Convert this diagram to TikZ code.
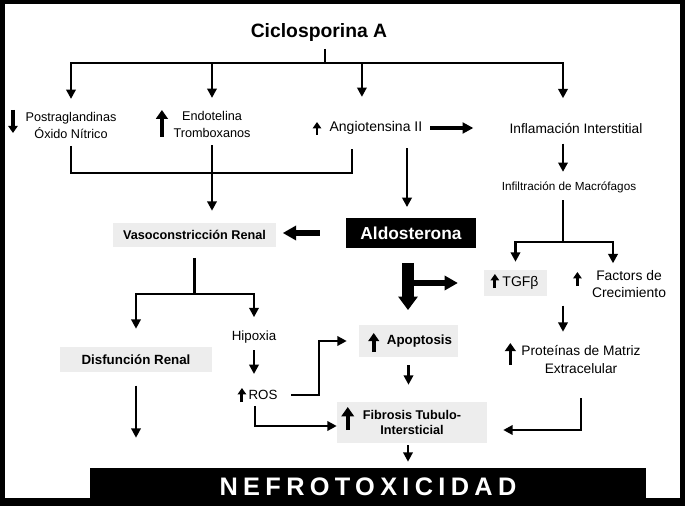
\documentclass[tikz,border=0pt]{standalone}
\usepackage{fontspec}
\setmainfont{Liberation Sans}
\usetikzlibrary{arrows.meta,calc}

\begin{document}
\begin{tikzpicture}[
  x=0.75pt, y=-0.75pt,
  lbl/.style={inner sep=1pt, align=center, font=\fontsize{9.5}{12.75}\selectfont},
  box/.style={fill=black!7, inner sep=0pt, align=center, font=\bfseries\fontsize{9.5}{11.25}\selectfont},
  dark/.style={fill=black, text=white, inner sep=0pt, font=\bfseries\fontsize{13}{15}\selectfont},
  line/.style={line width=1.9pt},
  arr/.style={line, -{Triangle[length=7pt,width=7pt]}},
  thickarr/.style={line width=3pt, -{Triangle[length=8pt,width=8pt]}},
  heavyarr/.style={line width=4.5pt, -{Triangle[length=10pt,width=10.5pt]}},
  bigarr/.style={line width=9pt, -{Triangle[length=10pt,width=14pt]}},
  ind/.style={line width=#1, -{Triangle[length=0pt 2.2,width=0pt 2.9]}}
]
\fill[black] (0,0) rectangle (685,506);
\fill[white] (5,4) rectangle (680,498);

\node[inner sep=1pt, font=\bfseries\fontsize{14.5}{17}\selectfont] (cic) at (319,33) {Ciclosporina A};
\node[lbl] (post) at (71,125) {Postraglandinas\\Óxido Nítrico};
\node[lbl] (endo) at (212,124) {Endotelina\\Tromboxanos};
\node[lbl, anchor=west, font=\fontsize{10.5}{12}\selectfont] (ang) at (328,128) {Angiotensina II};
\node[lbl, font=\fontsize{10.3}{12}\selectfont] (infl) at (576,129) {Inflamación Interstitial};
\node[lbl, font=\fontsize{8.8}{11}\selectfont] (macro) at (569,187) {Infiltración de Macrófagos};
\node[box, minimum width=122pt, minimum height=18pt] (vaso) at (194.5,235) {Vasoconstricción Renal};
\node[dark, minimum width=97.5pt, minimum height=22.5pt] (aldo) at (411,233) {Aldosterona};
\node[box, minimum width=47pt, minimum height=19.5pt, font=\fontsize{10.5}{12}\selectfont] (tgf) at (515.5,283) {\hspace*{7.5pt}TGFβ};
\node[lbl, font=\fontsize{10.4}{12.75}\selectfont] (fac) at (629,284.5) {Factors de\\Crecimiento};
\node[box, minimum width=74.25pt, minimum height=24pt, font=\bfseries\fontsize{10}{12}\selectfont] (apop) at (408.5,341) {\hspace*{16.5pt}Apoptosis};
\node[lbl, font=\fontsize{10.3}{13.5}\selectfont] (prot) at (581,360) {Proteínas de Matriz\\Extracelular};
\node[box, minimum width=112.5pt, minimum height=30.75pt] (fib) at (412,422.5) {Fibrosis Tubulo-\\Intersticial};
\node[box, minimum width=114pt, minimum height=18.75pt, font=\bfseries\fontsize{10}{12}\selectfont] (disf) at (136,359.5) {Disfunción Renal};
\node[lbl, font=\fontsize{10}{12}\selectfont] (hip) at (254,337) {Hipoxia};
\node[lbl, font=\fontsize{10}{12}\selectfont] (ros) at (263,395) {ROS};
\node[dark, minimum width=417pt, minimum height=28.5pt, font=\bfseries\fontsize{19}{22}\selectfont\addfontfeature{LetterSpace=21}] (nefro) at (368,487) {NEFROTOXICIDAD};

\coordinate (top) at (325,63);
\coordinate (vj) at (211,173);
\coordinate (mj) at (563,242);
\coordinate (vj2) at (194.5,294);

\draw[line, shorten <=4pt] (cic.south -| top) -- (top);
\draw[arr] (top) -| ([yshift=8.5pt]post.north);
\draw[arr] (top) -| ([yshift=8.5pt]endo.north);
\draw[arr] (top) -| ($(ang.north)+(-14,-23)$);
\draw[arr] (top) -| ($(infl.north)+(-13,-24)$);
\draw[line] ([yshift=-4.5pt]post.south) |- (vj) -| ($(ang.south)+(-24,13)$);
\draw[arr, shorten <=5pt, shorten >=9pt] (endo.south) -- (endo.south |- vaso.north);
\draw[arr, shorten <=9pt, shorten >=8pt] ($(ang.south -| aldo.north)+(-4,0)$) -- ($(aldo.north)+(-4,0)$);
\draw[thickarr, shorten <=5pt, shorten >=26pt] (ang.east) -- (ang.east -| infl.west);
\draw[arr, shorten <=6pt, shorten >=6pt] ($(infl.south)+(-13,0)$) -- ($(infl.south |- macro.north)+(-13,0)$);
\draw[line, shorten <=4.5pt] (macro.south -| mj) -- (mj);
\draw[arr, shorten >=6pt] (mj) -| (tgf.north);
\draw[arr] (mj) -| ($(fac.north)+(-16,-6)$);
\draw[heavyarr, shorten <=19.5pt, shorten >=5pt] (aldo.west) -- (aldo.west -| vaso.east);
\draw[bigarr, shorten <=11pt, shorten >=11pt] ($(aldo.south)+(-3,0)$) -- ($(aldo.south |- apop.north)+(-3,0)$);
\draw[heavyarr, line width=3.8pt, shorten >=19.5pt] ($(aldo.south |- tgf.west)+(-3,0)$) -- (tgf.west);
\draw[arr, shorten <=4.5pt, shorten >=9.4pt] (mj |- fac.south) -- (mj |- prot.north);
\draw[arr, shorten <=17pt, shorten >=12pt] (prot.south) |- ($(fib.east)+(0,7.5)$);
\draw[arr, shorten <=6pt, shorten >=12.75pt] (apop.south) -- (apop.south |- fib.north);
\draw[arr, shorten <=1.5pt, shorten >=4.5pt] ($(fib.south)+(-4,0)$) -- ($(fib.south |- nefro.north)+(-4,0)$);
\draw[line, shorten <=8pt] (vaso.south) -- (vj2);
\draw[arr, shorten >=13.5pt] (vj2) -| (disf.north);
\draw[arr, shorten >=9pt] (vj2) -| (hip.north);
\draw[arr, shorten <=4pt, shorten >=11pt] (hip.south) -- (hip.south |- ros.north);
\draw[arr, shorten <=10pt, shorten >=22.5pt] (disf.south) -- (disf.south |- nefro.north);
\draw[arr, shorten <=9pt, shorten >=9pt] (ros.east) -| ($(ros.east)!.5!(apop.west)$) |- (apop.west);
\draw[arr, shorten <=3.5pt] ($(ros.south)+(-8,0)$) |- ($(fib.west)+(0,3.5)$);

\draw[ind=2.4pt] ($(post.west)+(-11,-15)$) -- ++(0,23);
\draw[ind=3pt] ($(endo.west)+(-10,13)$) -- ++(0,-27);
\draw[ind=2.2pt] ($(ang.west)+(-11,7)$) -- ++(0,-13);
\draw[ind=2.2pt] ($(tgf.west)+(11,5)$) -- ++(0,-14);
\draw[ind=2.2pt] ($(fac.west)+(-13,1.5)$) -- ++(0,-14);
\draw[ind=2.8pt] ($(apop.west)+(15,11)$) -- ++(0,-19);
\draw[ind=3.2pt] ($(fib.west)+(11,7.5)$) -- ++(0,-23);
\draw[ind=2.8pt] ($(prot.west)+(-9.5,5)$) -- ++(0,-22);
\draw[ind=2.2pt] ($(ros.west)+(-5,7)$) -- ++(0,-14);
\end{tikzpicture}
\end{document}
